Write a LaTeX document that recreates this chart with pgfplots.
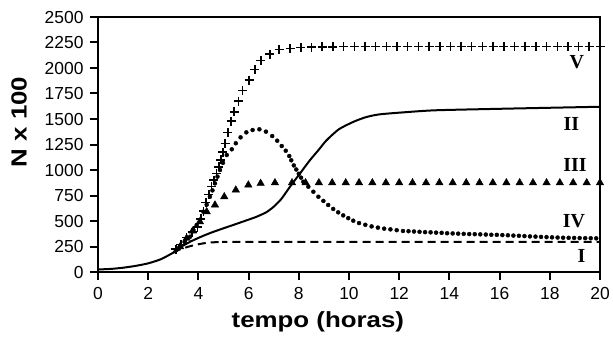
\documentclass[border=0pt]{standalone}
\usepackage{fontspec}
\setmainfont{Liberation Sans}
\newfontfamily\labfont[FakeStretch=1.18]{Liberation Sans}
\newfontfamily\serifb{Liberation Serif}
\usepackage{pgfplots}
\pgfplotsset{compat=1.18}
\begin{document}
\begin{tikzpicture}
\useasboundingbox (-98bp,-66bp) rectangle (515bp,272bp);
\begin{axis}[
  scale only axis, width=502bp, height=255bp,
  xmin=0, xmax=20, ymin=0, ymax=2500,
  xtick={0,2,...,20}, ytick={0,250,...,2500},
  axis line style={line width=2bp},
  tick style={line width=2bp, black},
  major tick length=8bp,
  tick align=outside,
  xtick pos=bottom, ytick pos=left,
  xticklabel={\fontsize{17.5}{19}\selectfont\pgfmathprintnumber[assume math mode=true,1000 sep={}]{\tick}},
  yticklabel={\fontsize{17.5}{19}\selectfont\pgfmathprintnumber[assume math mode=true,1000 sep={}]{\tick}},
  xticklabel style={yshift=-4bp},
  yticklabel style={xshift=-3bp},
  xlabel={tempo (horas)},
  ylabel={N x 100},
  x label style={font=\labfont\bfseries\fontsize{22}{24}\selectfont, at={(axis description cs:0.438,-0.196)}, anchor=center},
  y label style={font=\labfont\bfseries\fontsize{22}{24}\selectfont, at={(axis description cs:-0.157,0.588)}, anchor=center, rotate=0},
  clip=false,
]
% II solid
\addplot[black, line width=2bp, smooth, tension=0.4] coordinates {
(0,25) (0.5,30) (1,42) (1.5,60) (2,85) (2.5,125) (3,190) (3.3,245) (3.7,300)
(4.1,345) (4.5,385) (4.9,420) (5.4,462) (5.9,505) (6.3,540) (6.7,585) (7.0,640)
(7.3,715) (7.65,836) (8.05,967) (8.45,1098) (8.8,1200) (9.1,1290) (9.6,1400)
(10.2,1475) (10.7,1520) (11.2,1545) (12,1562) (13.4,1585) (16,1600) (20,1620)
};
% I dashed
\addplot[black, line width=2bp, dash pattern=on 8bp off 5bp, smooth, tension=0.4] coordinates {
(3.0,190) (3.3,225) (3.7,255) (4.0,272) (4.4,288) (5.0,295) (6,296) (20,296)
};
% III triangles
\addplot[only marks, mark=triangle*, mark size=4.3bp, black] coordinates {
(3.27,248) (3.53,330) (3.77,402) (4.06,493) (4.33,591) (4.66,657) (5.03,738)
(5.49,804) (5.99,853) (6.48,869) (7.05,875) (7.73,875) (8.27,875) (8.80,875)
(9.33,875) (9.87,875) (10.40,875) (10.93,875) (11.47,875) (12.00,875) (12.53,875)
(13.07,875) (13.60,875) (14.13,875) (14.67,875) (15.20,875) (15.73,875) (16.27,875)
(16.80,875) (17.33,875) (17.87,875) (18.40,875) (18.93,875) (19.47,875) (20.00,875)
};
% IV dots
\addplot[only marks, mark=*, mark size=2bp, black] coordinates {
(3.1,215) (3.27,248) (3.45,295) (3.67,346) (3.8,412) (3.93,460) (4.06,510)
(4.2,591) (4.33,660) (4.46,738) (4.56,800) (4.66,869) (4.76,935) (4.86,1000)
(4.98,1070) (5.13,1147) (5.33,1203) (5.49,1262) (5.68,1320) (5.91,1369)
(6.16,1392) (6.43,1399) (6.69,1376) (6.94,1333) (7.14,1287) (7.32,1235)
(7.48,1189) (7.62,1137) (7.70,1095) (7.80,1045) (7.90,1005) (8.00,963) (8.09,925)
(8.18,885) (8.38,836) (8.58,787) (8.78,738) (8.98,697) (9.17,657) (9.37,618)
(9.57,585) (9.77,555) (9.97,528) (10.17,503) (10.40,480) (10.65,463) (10.90,447)
(11.15,435) (11.40,425) (11.65,418) (11.90,410) (12.15,402) (12.37,400) (12.59,397)
(12.81,394) (13.03,391) (13.25,389) (13.47,386) (13.69,384) (13.91,380) (14.13,378)
(14.35,376) (14.57,374) (14.79,372) (15.01,371) (15.23,369) (15.45,367) (15.67,365)
(15.89,364) (16.11,362) (16.33,360) (16.55,357) (16.77,355) (16.99,352) (17.21,349)
(17.43,347) (17.65,344) (17.87,342) (18.09,340) (18.31,338) (18.53,336) (18.75,335)
(18.97,334) (19.19,333) (19.41,332) (19.63,331) (19.85,330)
};
% V plus
\addplot[only marks, mark=+, mark size=4.5bp, black, mark options={line width=1.5bp}] coordinates {
(3.1,225) (3.3,270) (3.53,336) (3.75,390) (3.96,440) (4.1,520) (4.2,598) (4.3,680)
(4.42,760) (4.53,837) (4.62,900) (4.72,965) (4.82,1030) (4.9,1100) (4.98,1175)
(5.06,1262) (5.17,1366) (5.3,1480) (5.42,1571) (5.6,1676) (5.76,1777) (6.02,1882)
(6.25,1987) (6.49,2072) (6.85,2137) (7.22,2180) (7.65,2193) (8.08,2199)
(8.51,2205) (8.93,2207) (9.36,2208) (9.78,2209) (10.21,2210) (10.64,2210) (11.06,2210)
(11.49,2210) (11.91,2210) (12.34,2210) (12.76,2210) (13.19,2210) (13.62,2210)
(14.04,2210) (14.47,2210) (14.89,2210) (15.32,2210) (15.74,2210) (16.17,2210)
(16.60,2210) (17.02,2210) (17.45,2210) (17.87,2210) (18.30,2210) (18.72,2210)
(19.15,2210) (19.57,2210) (20.00,2210)
};
\node[font=\serifb\bfseries\fontsize{20}{22}\selectfont] at (axis cs:19.08,2054) {V};
\node[font=\serifb\bfseries\fontsize{20}{22}\selectfont] at (axis cs:18.86,1451) {II};
\node[font=\serifb\bfseries\fontsize{20}{22}\selectfont] at (axis cs:19.0,1049) {III};
\node[font=\serifb\bfseries\fontsize{20}{22}\selectfont] at (axis cs:18.96,500) {IV};
\node[font=\serifb\bfseries\fontsize{20}{22}\selectfont] at (axis cs:19.26,157) {I};
\end{axis}
\end{tikzpicture}
\end{document}
